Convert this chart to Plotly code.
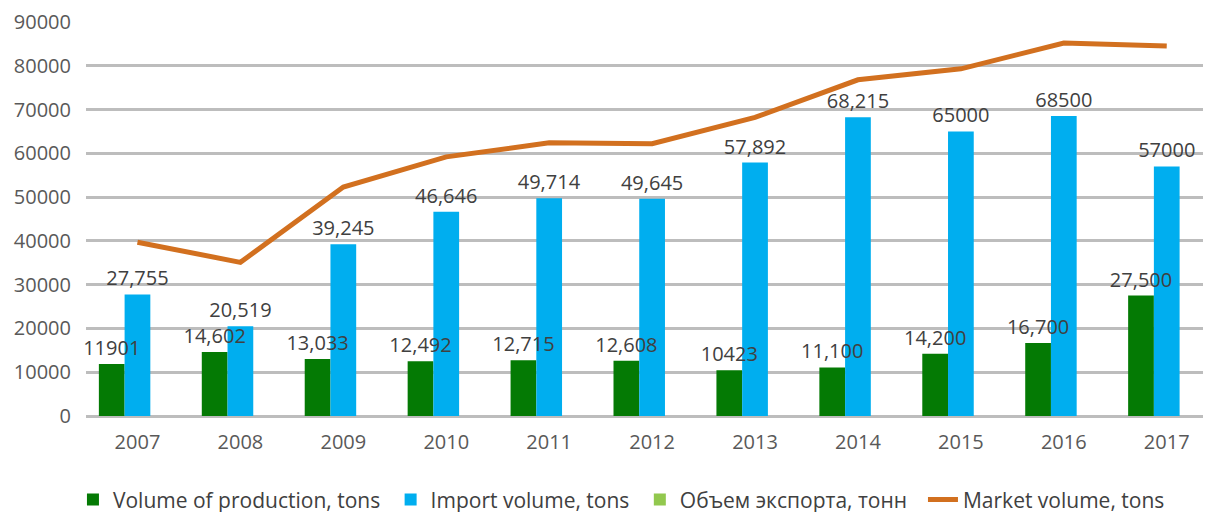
import plotly.graph_objects as go

years = ["2007", "2008", "2009", "2010", "2011", "2012", "2013", "2014", "2015", "2016", "2017"]
production = [11901, 14602, 13033, 12492, 12715, 12608, 10423, 11100, 14200, 16700, 27500]
production_labels = ["11901", "14,602", "13,033", "12,492", "12,715", "12,608", "10423", "11,100", "14,200", "16,700", "27,500"]
imports = [27755, 20519, 39245, 46646, 49714, 49645, 57892, 68215, 65000, 68500, 57000]
import_labels = ["27,755", "20,519", "39,245", "46,646", "49,714", "49,645", "57,892", "68,215", "65000", "68500", "57000"]
exports = [None] * 11
market = [39700, 35100, 52300, 59200, 62400, 62200, 68200, 76800, 79300, 85200, 84500]

FONT = "Open Sans"
TXT = "#404040"
NB = "\u00a0"

fig = go.Figure()
fig.add_trace(go.Bar(
    x=years, y=production, name="Volume of production, tons" + NB,
    offsetgroup="prod",
    marker=dict(color="#047A04", line=dict(width=0)),
))
fig.add_trace(go.Bar(
    x=years, y=imports, name="Import volume, tons" + NB,
    offsetgroup="imp",
    marker=dict(color="#00AEEF", line=dict(width=0)),
    text=import_labels, textposition="outside", constraintext="none",
    textfont=dict(family=FONT, size=20, color=TXT),
    cliponaxis=False,
))
fig.add_trace(go.Bar(
    x=years, y=exports, name="Объем экспорта, тонн" + NB * 2,
    offsetgroup="exp",
    marker=dict(color="#92C84E", line=dict(width=0)),
))
# labels for production drawn above the import bars
fig.add_trace(go.Bar(
    x=years, y=production, name="production labels", showlegend=False,
    offsetgroup="prod",
    marker=dict(color="rgba(0,0,0,0)", line=dict(width=0)),
    text=production_labels, textposition="outside", constraintext="none",
    textfont=dict(family=FONT, size=20, color=TXT),
    cliponaxis=False, hoverinfo="skip",
))
fig.add_trace(go.Scatter(
    x=years, y=market, name="Market volume, tons", mode="lines",
    line=dict(color="#D2701F", width=5),
))

fig.update_layout(
    width=1203, height=504,
    margin=dict(l=78, r=0, t=14, b=96, autoexpand=False),
    plot_bgcolor="white", paper_bgcolor="white",
    barmode="group", bargap=0.25, bargroupgap=0,
    font=dict(family=FONT, size=20, color="#595959"),
    showlegend=True,
    legend=dict(orientation="h", x=-0.0116, xanchor="left", y=-0.213, yanchor="middle",
                font=dict(family=FONT, size=21, color="#404040"),
                itemwidth=30, tracegroupgap=0, bgcolor="rgba(0,0,0,0)"),
)
fig.update_xaxes(
    range=[-0.5, 10.43], showgrid=False, showline=False, ticks="",
    ticklabelstandoff=12, automargin=False,
    tickfont=dict(family=FONT, size=20, color="#595959"),
)
fig.update_yaxes(
    range=[0, 90000], dtick=10000, tickformat="d",
    showgrid=True, gridcolor="#BDBDBD", gridwidth=3,
    zeroline=True, zerolinecolor="#BDBDBD", zerolinewidth=3,
    showline=False, ticks="", ticklabelstandoff=14, automargin=False,
    tickfont=dict(family=FONT, size=20, color="#595959"),
)

fig.write_html("out.html")
